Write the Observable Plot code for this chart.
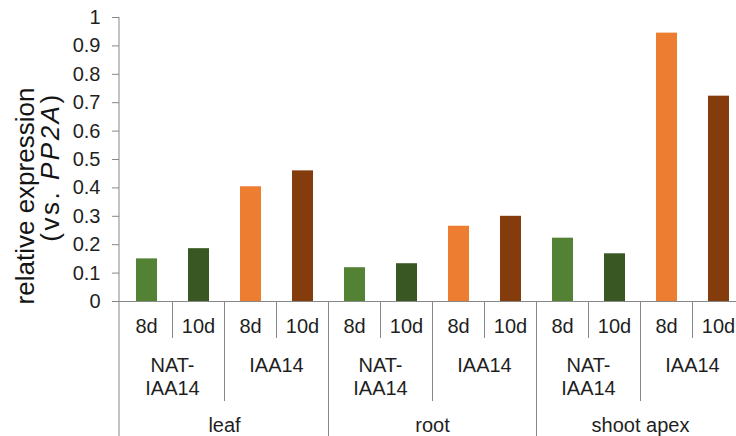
<!DOCTYPE html>
<html>
<head>
<meta charset="utf-8">
<script src="https://cdn.jsdelivr.net/npm/d3@7"></script>
<script src="https://cdn.jsdelivr.net/npm/@observablehq/plot@0.6"></script>
<style>
  body { margin: 0; background: #fff; }
  #chart svg { overflow: visible; }
</style>
</head>
<body>
<div id="chart"></div>
<script>
// Expression of NAT-IAA14 and IAA14 (8 and 10 days) in three tissues
const tissues = ["leaf", "root", "shoot apex"];
const genes = ["NAT-IAA14", "IAA14"];
const days = ["8d", "10d"];
// values in order: NAT-IAA14 8d, NAT-IAA14 10d, IAA14 8d, IAA14 10d
const leafValues = [0.150, 0.186, 0.404, 0.460];
const rootValues = [0.119, 0.133, 0.265, 0.300];
const apexValues = [0.223, 0.168, 0.945, 0.723];
const yTicks = [0, 0.1, 0.2, 0.3, 0.4, 0.5, 0.6, 0.7, 0.8, 0.9, 1];
const barColors = ["#548235", "#385723", "#ED7D31", "#843C0C"];

const valuesByTissue = [leafValues, rootValues, apexValues];
const series = genes.flatMap(g => days.map(d => `${g} ${d}`));
const rows = [];
tissues.forEach((t, ti) => {
  genes.forEach((g, gi) => {
    days.forEach((d, di) => {
      rows.push({
        key: `${t}|${g}|${d}`, tissue: t, gene: g, day: d,
        series: `${g} ${d}`, value: valuesByTissue[ti][gi * 2 + di]
      });
    });
  });
});
const keys = rows.map(r => r.key);

const axisColor = "#878787";
const textColor = "#1f1f1f";
const font = "'Liberation Sans', Arial, sans-serif";

// Multi-level category axis below the bars plus the y-axis title
function categoryAxis(index, scales, values, dimensions) {
  const {x, y} = scales;
  const bw = x.bandwidth();
  const base = y(0);
  const top = y(1);
  const bottom = dimensions.height;
  const center = k => x(k) + bw / 2;
  const g = d3.create("svg:g")
    .attr("font-family", font)
    .attr("font-size", 20)
    .attr("fill", textColor);

  // left border (y-axis line continued down through the category rows)
  g.append("line")
    .attr("x1", dimensions.marginLeft).attr("x2", dimensions.marginLeft)
    .attr("y1", top).attr("y2", bottom)
    .attr("stroke", axisColor);

  // dividers between slots
  for (let i = 0; i < keys.length - 1; i++) {
    const xb = (center(keys[i]) + center(keys[i + 1])) / 2;
    const n = i + 1;
    const y2 = n % 4 === 0 ? bottom : n % 2 === 0 ? base + 100 : base + 37;
    g.append("line")
      .attr("x1", xb).attr("x2", xb)
      .attr("y1", base).attr("y2", y2)
      .attr("stroke", axisColor);
  }

  // day labels
  rows.forEach(r => {
    g.append("text")
      .attr("x", center(r.key)).attr("y", base + 25)
      .attr("text-anchor", "middle").attr("dy", "0.35em")
      .text(r.day);
  });

  // gene labels
  tissues.forEach(t => {
    genes.forEach(gn => {
      const ks = rows.filter(r => r.tissue === t && r.gene === gn).map(r => r.key);
      const cx = d3.mean(ks, center);
      const lines = gn === "NAT-IAA14" ? ["NAT-", "IAA14"] : [gn];
      lines.forEach((ln, li) => {
        g.append("text")
          .attr("x", cx).attr("y", base + 64 + li * 23)
          .attr("text-anchor", "middle").attr("dy", "0.35em")
          .text(ln);
      });
    });
    const ks = rows.filter(r => r.tissue === t).map(r => r.key);
    g.append("text")
      .attr("x", d3.mean(ks, center)).attr("y", base + 124)
      .attr("text-anchor", "middle").attr("dy", "0.35em")
      .text(t);
  });

  // y-axis title, two lines, rotated
  const title = g.append("g").attr("font-size", 26).attr("fill", "#141414");
  title.append("text")
    .attr("transform", "translate(34,196) rotate(-90)")
    .attr("text-anchor", "middle")
    .text("relative expression");
  const t2 = title.append("text")
    .attr("transform", "translate(59,167) rotate(-90)")
    .attr("text-anchor", "middle")
    .attr("letter-spacing", 2.5);
  t2.append("tspan").text("(vs. ");
  t2.append("tspan").attr("font-style", "italic").text("PP2A");
  t2.append("tspan").text(")");

  return g.node();
}

const chart = Plot.plot({
  width: 736,
  height: 436,
  marginLeft: 119,
  marginTop: 17,
  marginBottom: 135,
  marginRight: 0,
  style: {fontFamily: font, background: "#fff", overflow: "visible"},
  x: {domain: keys, range: [119, 745], paddingInner: 0.6, paddingOuter: 0.3, axis: null},
  y: {domain: [0, 1], axis: null},
  color: {domain: series, range: barColors},
  marks: [
    Plot.barY(rows, {x: "key", y: "value", fill: "series"}),
    Plot.ruleY([0], {stroke: axisColor}),
    Plot.axisY({
      ticks: yTicks,
      tickSize: 7,
      tickPadding: 12,
      fontSize: 20,
      stroke: axisColor,
      fill: textColor,
      label: null,
      tickFormat: d => String(d)
    }),
    categoryAxis
  ]
});

document.getElementById("chart").append(chart);
</script>
</body>
</html>
